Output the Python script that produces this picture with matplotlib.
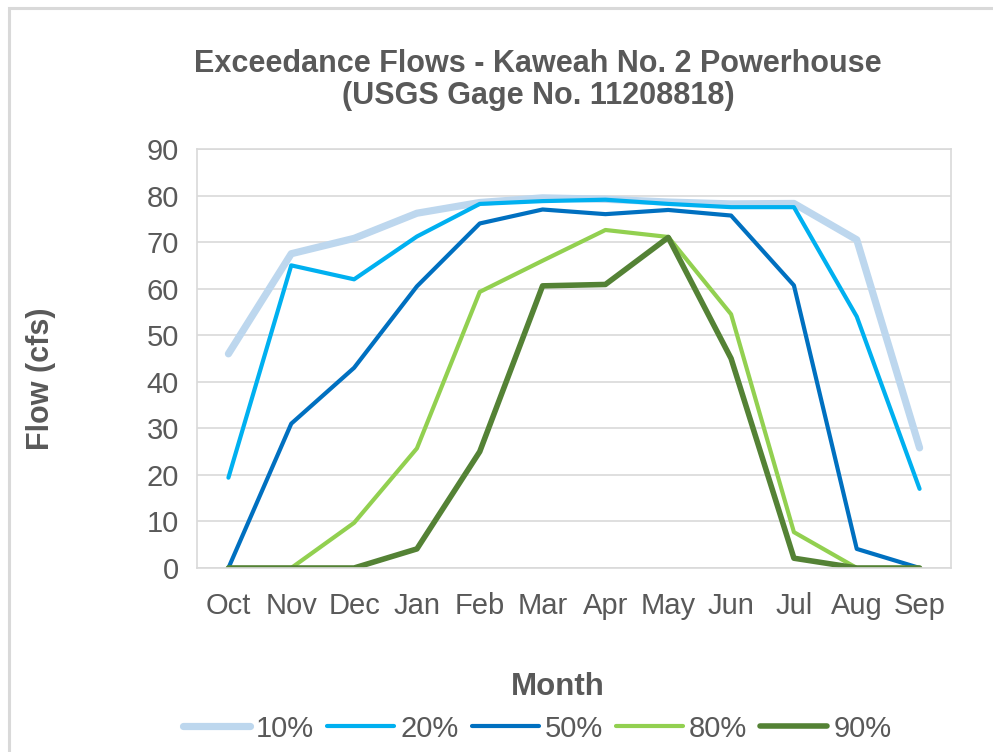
import matplotlib.pyplot as plt
from matplotlib.patches import Rectangle

months = ['Oct', 'Nov', 'Dec', 'Jan', 'Feb', 'Mar', 'Apr', 'May', 'Jun', 'Jul', 'Aug', 'Sep']

p10 = [46, 67.5, 70.8, 76.2, 78.5, 79.5, 79.2, 78.6, 78.2, 78.3, 70.5, 25.8]
p20 = [19.4, 65, 62, 71.2, 78.2, 78.8, 79.1, 78.2, 77.5, 77.5, 54, 17]
p50 = [0, 31, 43, 60.5, 74, 77, 76, 76.9, 75.7, 60.7, 4.1, 0]
p80 = [0, 0, 9.7, 25.7, 59.3, 66, 72.6, 71.1, 54.5, 7.7, 0, 0]
p90 = [0, 0, 0, 4.1, 25, 60.6, 60.9, 71, 45, 2.1, 0, 0]

series = [('10%', p10, '#BDD7EE', 5.2),
          ('20%', p20, '#00B0F0', 3.0),
          ('50%', p50, '#0070C0', 3.0),
          ('80%', p80, '#92D050', 3.0),
          ('90%', p90, '#548235', 4.0)]

plt.rcParams['font.family'] = ['Liberation Sans', 'DejaVu Sans']
txt = '#595959'
grid = '#D9D9D9'

fig = plt.figure(figsize=(9.93, 7.52), dpi=100)
fig.patches.append(Rectangle((0.009, -0.1), 1.2, 1.089, transform=fig.transFigure,
                             fill=False, edgecolor=grid, linewidth=2.2))

ax = fig.add_axes([0.1984, 0.2447, 0.7593, 0.5572])
x = range(len(months))
for name, vals, col, lw in series:
    ax.plot(x, vals, color=col, linewidth=lw, label=name, solid_capstyle='round',
            solid_joinstyle='round')

ax.set_xlim(-0.5, len(months) - 0.5)
ax.set_ylim(0, 90)
ax.set_yticks(range(0, 91, 10))
ax.set_xticks(list(x))
ax.set_xticklabels(months)
ax.tick_params(length=0, labelsize=21, labelcolor=txt)
ax.tick_params(axis='y', pad=13)
ax.tick_params(axis='x', pad=17)
ax.yaxis.grid(True, color=grid, linewidth=1.2)
ax.set_axisbelow(True)
for s in ax.spines.values():
    s.set_color(grid)
    s.set_linewidth(1.2)

fig.text(0.5418, 0.8935, 'Exceedance Flows - Kaweah No. 2 Powerhouse\n(USGS Gage No. 11208818)',
         ha='center', va='center', fontsize=22, fontweight='bold', color=txt,
         linespacing=1.08)
fig.text(0.041, 0.496, 'Flow (cfs)', rotation=90, ha='center', va='center',
         fontsize=22, fontweight='bold', color=txt)
fig.text(0.5615, 0.087, 'Month', ha='center', va='center',
         fontsize=22.5, fontweight='bold', color=txt)

leg = fig.legend(loc='center', bbox_to_anchor=(0.541, 0.031), ncol=5, frameon=False,
                 fontsize=21, handlelength=2.3, handletextpad=0.2, columnspacing=0.45,
                 labelcolor=txt)

fig.savefig('out.png', dpi=100)
